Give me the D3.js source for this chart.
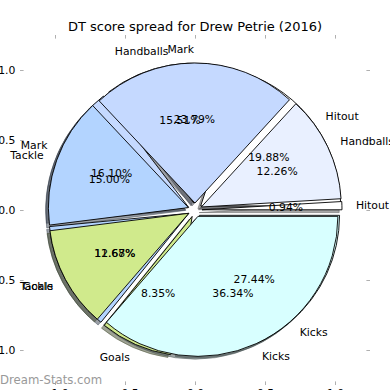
<!DOCTYPE html>
<html>
<head>
<meta charset="utf-8">
<script src="https://cdn.jsdelivr.net/npm/d3@7"></script>
<style>
  html, body { margin: 0; padding: 0; background: #fff; }
  text { font-family: "DejaVu Sans", sans-serif; }
</style>
</head>
<body>
<div id="chart"></div>
<script>
// ---- data ----
const categories = ["Hitout", "Handballs", "Mark", "Tackle", "Goals", "Kicks"];
const backValues = [19.88, 15.51, 16.10, 12.68, 8.35, 27.44];   // lower pie
const frontValues = [0.94, 12.26, 23.79, 15.00, 11.67, 36.34];  // upper pie (drawn on top)
const sliceColors = ["#ffffff", "#e9f0ff", "#c5d9ff", "#b3d4ff", "#d0ea8c", "#d8ffff"];
const tickValues = [-1.0, -0.5, 0.0, 0.5, 1.0];
const titleText = "DT score spread for Drew Petrie (2016)";
const watermark = "Dream-Stats.com";

// ---- layout ----
const W = 390, H = 390;
const svg = d3.select("#chart").append("svg")
  .attr("width", W).attr("height", H)
  .style("display", "block").style("background", "#fff");

const x = d3.scaleLinear().domain([-1.25, 1.25]).range([20, 370]);
const y = d3.scaleLinear().domain([-1.25, 1.25]).range([385, 35]);
const R = x(1) - x(0);
const cx = x(0), cy = y(0);
const explode = 0.05 * R;
const shadowDx = x(-0.02) - x(0), shadowDy = y(-0.02) - y(0);
const fs = 10.8;

const color = d3.scaleOrdinal().domain(categories).range(sliceColors);

// axes ticks
const tickCol = "#b0b0b0";
const fmt = d3.format(".1f");
function styleAxis(g, showText) {
  g.select(".domain").remove();
  g.selectAll(".tick line").attr("stroke", tickCol);
  g.selectAll(".tick text").attr("fill", "#000").style("font-size", fs + "px")
    .style("font-family", "DejaVu Sans").style("display", showText ? null : "none");
}
svg.append("g").attr("transform", `translate(${x(-1.25)},0)`)
  .call(d3.axisLeft(y).tickValues(tickValues).tickFormat(fmt).tickSizeInner(-3.6).tickSizeOuter(0).tickPadding(4.6))
  .call(g => styleAxis(g, true));
svg.append("g").attr("transform", `translate(${x(1.25)},0)`)
  .call(d3.axisRight(y).tickValues(tickValues).tickSizeInner(-3.6).tickSizeOuter(0))
  .call(g => styleAxis(g, false));
svg.append("g").attr("transform", `translate(0,${y(-1.25)})`)
  .call(d3.axisBottom(x).tickValues(tickValues).tickFormat(fmt).tickSizeInner(-3.6).tickSizeOuter(0).tickPadding(4))
  .call(g => styleAxis(g, true));
svg.append("g").attr("transform", `translate(0,${y(1.25)})`)
  .call(d3.axisTop(x).tickValues(tickValues).tickSizeInner(-3.6).tickSizeOuter(0))
  .call(g => styleAxis(g, false));

// pies
const pie = d3.pie().sort(null).startAngle(Math.PI / 2).endAngle(Math.PI / 2 - 2 * Math.PI);
const arc = d3.arc().innerRadius(0).outerRadius(R);

function build(values) {
  return pie(values).map((d, i) => {
    const mid = (d.startAngle + d.endAngle) / 2;
    const ux = Math.sin(mid), uy = -Math.cos(mid);
    return Object.assign(d, { cat: categories[i], ux, uy,
      ox: cx + ux * explode, oy: cy + uy * explode });
  });
}
const back = build(backValues);
const front = build(frontValues);

function shadowColor(c) {
  const r = d3.rgb(c);
  return `rgba(${Math.round(r.r * 0.3)},${Math.round(r.g * 0.3)},${Math.round(r.b * 0.3)},0.5)`;
}

const gShadow = svg.append("g");
[back, front].forEach(arr => {
  gShadow.selectAll(null).data(arr).enter().append("path")
    .attr("d", arc)
    .attr("transform", d => `translate(${d.ox + shadowDx},${d.oy + shadowDy})`)
    .attr("fill", d => shadowColor(color(d.cat)))
    .attr("stroke", d => shadowColor(color(d.cat)))
    .attr("stroke-width", 0.9);
});

[back, front].forEach(arr => {
  svg.append("g").selectAll("path").data(arr).enter().append("path")
    .attr("d", arc)
    .attr("transform", d => `translate(${d.ox},${d.oy})`)
    .attr("fill", d => color(d.cat))
    .attr("stroke", "#000")
    .attr("stroke-width", 0.9)
    .attr("stroke-linejoin", "round");
});

[back, front].forEach(arr => {
  const g = svg.append("g").style("font-size", fs + "px");
  g.selectAll(".lab").data(arr).enter().append("text")
    .attr("x", d => d.ox + d.ux * 1.1 * R)
    .attr("y", d => d.oy + d.uy * 1.1 * R)
    .attr("dy", "0.35em")
    .attr("text-anchor", d => d.ux > 0 ? "start" : "end")
    .attr("fill", "#000")
    .text(d => d.cat);
  g.selectAll(".pct").data(arr).enter().append("text")
    .attr("x", d => d.ox + d.ux * 0.6 * R)
    .attr("y", d => d.oy + d.uy * 0.6 * R)
    .attr("dy", "0.35em")
    .attr("text-anchor", "middle")
    .attr("fill", "#000")
    .text(d => d.value.toFixed(2) + "%");
});

// title
svg.append("text").attr("x", cx).attr("y", 30.5)
  .attr("text-anchor", "middle").style("font-size", "13px").attr("fill", "#000")
  .text(titleText);

// watermark
svg.append("text").attr("x", 0).attr("y", 384)
  .style("font-size", "11.7px").attr("fill", "#999")
  .text(watermark);
</script>
</body>
</html>
